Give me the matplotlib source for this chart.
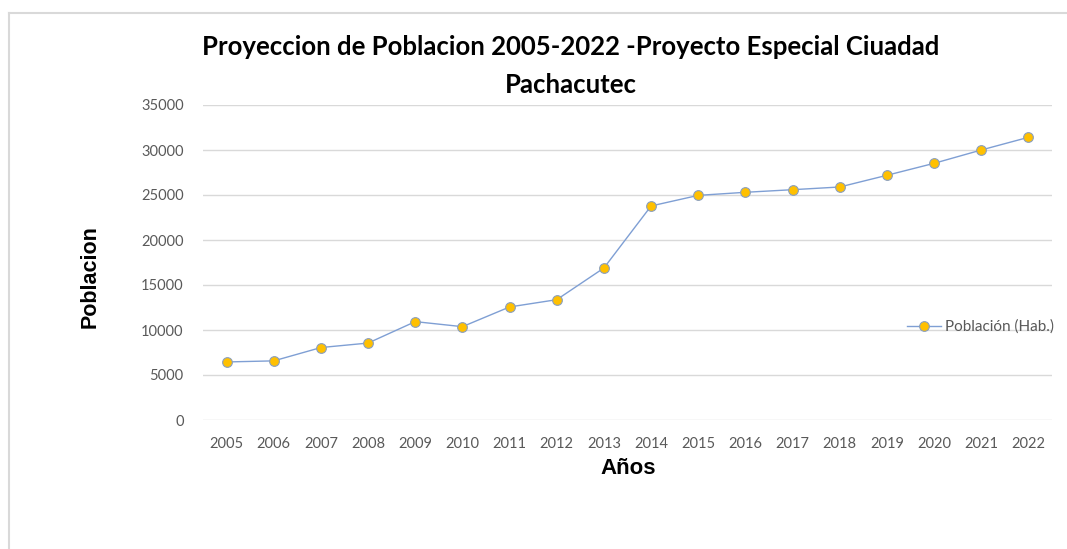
import matplotlib
matplotlib.use("Agg")
import matplotlib.pyplot as plt
from matplotlib.lines import Line2D

years = ["2005", "2006", "2007", "2008", "2009", "2010", "2011", "2012", "2013",
         "2014", "2015", "2016", "2017", "2018", "2019", "2020", "2021", "2022"]
poblacion = [6450, 6570, 8050, 8550, 10930, 10370, 12560, 13370, 16890,
             23780, 24960, 25300, 25590, 25890, 27190, 28520, 30000, 31410]
yticks = [0, 5000, 10000, 15000, 20000, 25000, 30000, 35000]
series_name = "Población (Hab.)"
title_lines = ["Proyeccion de Poblacion 2005-2022 -Proyecto Especial Ciuadad",
               "Pachacutec"]

W, H = 1067, 549
fig = plt.figure(figsize=(W / 100, H / 100), dpi=100)
fig.patch.set_facecolor("white")

def fx(px):
    return px / W

def fy(py):
    return 1 - py / H

# outer chart frame (partially visible)
fig.add_artist(Line2D([fx(8.5), 1.0], [fy(12.5), fy(12.5)], color="#d9d9d9", lw=1.5))
fig.add_artist(Line2D([fx(8.5), fx(8.5)], [fy(12.5), 0.0], color="#d9d9d9", lw=1.5))

ax = fig.add_axes([fx(203), fy(420), fx(1052) - fx(203), fy(105) - fy(420)])
x = list(range(len(years)))
line, = ax.plot(x, poblacion, color="#7f9fd4", lw=1.0,
                marker="o", markersize=7, markerfacecolor="#ffc000",
                markeredgecolor="#8a9fbf", markeredgewidth=0.8, zorder=3)

ax.set_xlim(-0.5, len(years) - 0.5)
ax.set_ylim(0, 35000)
ax.set_yticks(yticks)
ax.set_yticklabels([str(v) for v in yticks])
ax.set_xticks(x)
ax.set_xticklabels(years)
ax.grid(axis="y", color="#d9d9d9", lw=1.0)
ax.set_axisbelow(True)
for s in ax.spines.values():
    s.set_visible(False)
ax.tick_params(axis="both", length=0, labelsize=10.5, labelcolor="#595959")
ax.tick_params(axis="x", pad=12)
ax.tick_params(axis="y", pad=14)
for lab in ax.get_xticklabels() + ax.get_yticklabels():
    lab.set_family("Lato")

for ty, tl in zip([47, 85], title_lines):
    fig.text(fx(571), fy(ty), tl, ha="center", va="center", fontsize=18.5,
             fontweight="bold", family="Lato", color="black")
fig.text(fx(90), fy(277), "Poblacion", rotation=90, ha="center", va="center",
         fontsize=15.5, fontweight="bold", family="Liberation Sans")
fig.text(fx(628), fy(469), "Años", ha="center", va="center",
         fontsize=16, fontweight="bold", family="Liberation Sans")

leg = fig.legend([line], [series_name], loc="center left",
                 bbox_to_anchor=(fx(907), fy(327)), frameon=False,
                 fontsize=11, handlelength=2.2, handletextpad=0.3,
                 borderaxespad=0, borderpad=0)
for t in leg.get_texts():
    t.set_color("#595959")
    t.set_family("Lato")

fig.savefig("out.png", dpi=100, facecolor="white")
